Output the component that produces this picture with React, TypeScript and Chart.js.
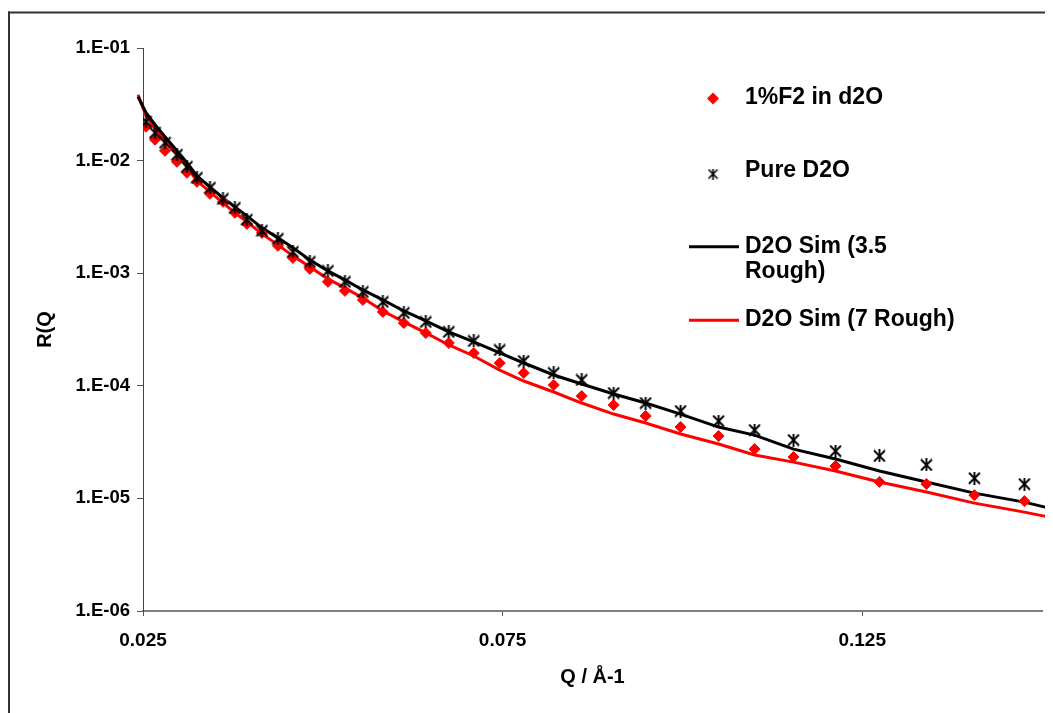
import React, { useEffect, useRef } from 'react';
import { Chart, registerables } from 'chart.js';

Chart.register(...registerables);

const FONT = '"Liberation Sans", Arial, Helvetica, sans-serif';

// Measured Q values (Å-1)
const qData = [
  0.02542, 0.02667, 0.02806, 0.02972, 0.03111, 0.0325, 0.03431, 0.03612, 0.03778, 0.03945,
  0.04154, 0.04376, 0.04584, 0.0482, 0.05071, 0.05307, 0.05557, 0.05835, 0.06127, 0.06432,
  0.06752, 0.07099, 0.0746, 0.07794, 0.08211, 0.086, 0.09044, 0.09489, 0.09975, 0.10503,
  0.11004, 0.11545, 0.12129, 0.1274, 0.13393, 0.1406, 0.14755,
];

// 1%F2 in d2O reflectivity
const f2Values = [
  0.01998, 0.01531, 0.01222, 0.00976, 0.0078, 0.00648, 0.00507, 0.00431, 0.00344, 0.00274,
  0.00228, 0.00175, 0.001368, 0.001092, 0.000838, 0.000697, 0.000579, 0.000453, 0.000361, 0.000294,
  0.00024, 0.0001954, 0.0001592, 0.00013, 0.0001016, 8.11e-5, 6.75e-5, 5.4e-5, 4.31e-5, 3.58e-5,
  2.74e-5, 2.33e-5, 1.94e-5, 1.4e-5, 1.34e-5, 1.069e-5, 9.46e-6,
];

// Pure D2O reflectivity
const pureD2OValues = [
  0.02213, 0.01766, 0.01439, 0.01127, 0.00881, 0.00703, 0.00573, 0.00457, 0.0038, 0.00298,
  0.00238, 0.00202, 0.001545, 0.001259, 0.001047, 0.000838, 0.000682, 0.000556, 0.000444, 0.000369,
  0.000301, 0.00025, 0.000208, 0.000166, 0.00013, 0.0001127, 8.63e-5, 7.03e-5, 5.97e-5, 4.86e-5,
  4.05e-5, 3.3e-5, 2.63e-5, 2.38e-5, 1.98e-5, 1.51e-5, 1.34e-5,
];

// Simulation Q values
const simQ = [
  0.02431, 0.02542, 0.02667, 0.02806, 0.02972, 0.03111, 0.0325, 0.03431, 0.03612, 0.03778,
  0.03945, 0.04154, 0.04376, 0.04584, 0.0482, 0.05071, 0.05307, 0.05557, 0.05835, 0.06127,
  0.06432, 0.06752, 0.07099, 0.0746, 0.07794, 0.08211, 0.086, 0.09044, 0.09489, 0.09975,
  0.10503, 0.11004, 0.11545, 0.12129, 0.1274, 0.13393, 0.1406, 0.14755, 0.151,
];

// D2O Sim (3.5 Rough)
const sim35Values = [
  0.03692, 0.0266, 0.02081, 0.01627, 0.01222, 0.00956, 0.007325, 0.00585, 0.00467, 0.003885,
  0.003231, 0.002528, 0.00206, 0.001679, 0.001313, 0.001048, 0.000872, 0.00071, 0.000579, 0.000462,
  0.000377, 0.000301, 0.000245, 0.0001957, 0.0001594, 0.0001247, 0.0001038, 8.46e-5, 7.03e-5, 5.61e-5,
  4.3e-5, 3.65e-5, 2.74e-5, 2.24e-5, 1.75e-5, 1.4e-5, 1.114e-5, 9.27e-6, 8.2e-6,
];

// D2O Sim (7 Rough)
const sim7Values = [
  0.03846, 0.02501, 0.01917, 0.015, 0.01126, 0.00881, 0.00661, 0.00528, 0.004215, 0.003436,
  0.002858, 0.002235, 0.001785, 0.001425, 0.001138, 0.00089, 0.00074, 0.000603, 0.000462, 0.000369,
  0.000295, 0.0002305, 0.000184, 0.000138, 0.0001103, 8.81e-5, 7.03e-5, 5.61e-5, 4.67e-5, 3.73e-5,
  3.04e-5, 2.43e-5, 2.1e-5, 1.75e-5, 1.4e-5, 1.138e-5, 9.08e-6, 7.55e-6, 6.82e-6,
];

const seriesLabels = ['1%F2 in d2O', 'Pure D2O', 'D2O Sim (3.5 Rough)', 'D2O Sim (7 Rough)'];

const xTickValues = [0.025, 0.075, 0.125];
const xTickLabels = ['0.025', '0.075', '0.125'];
const yTickValues = [1e-6, 1e-5, 1e-4, 1e-3, 1e-2, 1e-1];
const yTickLabels = ['1.E-06', '1.E-05', '1.E-04', '1.E-03', '1.E-02', '1.E-01'];

const xTitle = 'Q / Å-1';
const yTitle = 'R(Q';

function makeAsterisk(size: number, lw: number): HTMLCanvasElement {
  const c = document.createElement('canvas');
  c.width = size;
  c.height = size;
  const g = c.getContext('2d')!;
  g.strokeStyle = '#000';
  g.lineWidth = lw;
  const m = 1;
  g.beginPath();
  g.moveTo(m, m);
  g.lineTo(size - m, size - m);
  g.moveTo(size - m, m);
  g.lineTo(m, size - m);
  g.moveTo(size / 2, 0);
  g.lineTo(size / 2, size);
  g.stroke();
  return c;
}

export default function App() {
  const ref = useRef<HTMLCanvasElement | null>(null);

  useEffect(() => {
    const canvas = ref.current;
    if (!canvas) return;
    const asterisk = makeAsterisk(13, 1.9);
    const legendAsterisk = makeAsterisk(11, 1.6);

    const framePlugin = {
      id: 'frame',
      beforeDraw(chart: any) {
        const ctx = chart.ctx;
        ctx.save();
        ctx.fillStyle = '#ffffff';
        ctx.fillRect(0, 0, chart.width, chart.height);
        ctx.fillStyle = '#333333';
        ctx.fillRect(0, 3.5, 2, chart.height - 3.5);
        ctx.fillRect(0, 3.5, chart.width, 2);
        ctx.restore();
      },
    };

    const legendPlugin = {
      id: 'customLegend',
      afterDraw(chart: any) {
        const ctx = chart.ctx as CanvasRenderingContext2D;
        const ds = chart.data.datasets;
        const fontSize = 23;
        ctx.save();
        ctx.font = `bold ${fontSize}px ${FONT}`;
        ctx.textBaseline = 'middle';
        ctx.textAlign = 'left';
        const textX = 737;
        const markX = 705;
        const lineX0 = 681;
        const lineX1 = 731;
        const maxW = 218;
        const lineGap = 25.5;
        const itemsY = [90, 163, 238.5, 312];

        const wrap = (txt: string): string[] => {
          const words = txt.split(' ');
          const lines: string[] = [];
          let cur = '';
          for (const w of words) {
            const test = cur ? cur + ' ' + w : w;
            if (ctx.measureText(test).width > maxW && cur) {
              lines.push(cur);
              cur = w;
            } else cur = test;
          }
          if (cur) lines.push(cur);
          return lines;
        };

        ds.forEach((d: any, i: number) => {
          const y = itemsY[i];
          if (i === 0) {
            const r = 6;
            ctx.fillStyle = d.backgroundColor;
            ctx.beginPath();
            ctx.moveTo(markX - r, y + 0.5);
            ctx.lineTo(markX, y + 0.5 - r);
            ctx.lineTo(markX + r, y + 0.5);
            ctx.lineTo(markX, y + 0.5 + r);
            ctx.closePath();
            ctx.fill();
          } else if (i === 1) {
            ctx.drawImage(legendAsterisk, markX - 5.5, y + 3 - 5.5);
          } else {
            ctx.strokeStyle = d.borderColor;
            ctx.lineWidth = 3;
            ctx.beginPath();
            ctx.moveTo(lineX0, y + 0.2);
            ctx.lineTo(lineX1, y + 0.2);
            ctx.stroke();
          }
          ctx.fillStyle = '#000';
          const lines = wrap(d.label);
          lines.forEach((ln, k) => ctx.fillText(ln, textX, y + k * lineGap));
        });
        ctx.restore();
      },
    };

    const chart = new Chart(canvas, {
      type: 'scatter',
      data: {
        datasets: [
          {
            label: seriesLabels[0],
            data: qData.map((q, i) => ({ x: q, y: f2Values[i] })),
            pointStyle: 'rectRot',
            pointRadius: 5.5,
            borderWidth: 1,
            backgroundColor: '#ff0000',
            borderColor: '#ff0000',
            showLine: false,
            order: 1,
          },
          {
            label: seriesLabels[1],
            data: qData.map((q, i) => ({ x: q, y: pureD2OValues[i] })),
            pointStyle: asterisk as any,
            pointRadius: 6,
            backgroundColor: '#000',
            borderColor: '#000',
            showLine: false,
            order: 0,
          },
          {
            label: seriesLabels[2],
            data: simQ.map((q, i) => ({ x: q, y: sim35Values[i] })),
            showLine: true,
            borderColor: '#000000',
            backgroundColor: '#000000',
            borderWidth: 3,
            pointRadius: 0,
            tension: 0,
            clip: false as any,
            order: 2,
          },
          {
            label: seriesLabels[3],
            data: simQ.map((q, i) => ({ x: q, y: sim7Values[i] })),
            showLine: true,
            borderColor: '#ff0000',
            backgroundColor: '#ff0000',
            borderWidth: 3,
            pointRadius: 0,
            tension: 0,
            clip: false as any,
            order: 3,
          },
        ],
      },
      options: {
        animation: false,
        responsive: false,
        maintainAspectRatio: false,
        layout: { padding: { left: 0, right: 11, top: 40, bottom: 0 } },
        plugins: {
          legend: { display: false },
          tooltip: { enabled: false },
        },
        scales: {
          x: {
            type: 'linear',
            min: 0.025,
            max: 0.15,
            afterBuildTicks: (s: any) => {
              s.ticks = xTickValues.map((v) => ({ value: v }));
            },
            afterFit: (s: any) => {
              s.height = 102;
            },
            ticks: {
              autoSkip: false,
              maxRotation: 0,
              padding: 13,
              color: '#000',
              font: { family: FONT, size: 19, weight: 'bold' },
              callback: (v: any) => {
                const i = xTickValues.findIndex((t) => Math.abs(t - v) < 1e-9);
                return i >= 0 ? xTickLabels[i] : '';
              },
            },
            grid: { drawOnChartArea: false, drawTicks: true, tickLength: 5, color: '#555', lineWidth: 1 },
            border: { display: true, color: '#808080', width: 2 },
            title: {
              display: true,
              text: xTitle,
              color: '#000',
              font: { family: FONT, size: 20, weight: 'bold' },
              padding: { top: 0, bottom: 24 },
            },
          },
          y: {
            type: 'logarithmic',
            min: 1e-6,
            max: 1e-1,
            afterBuildTicks: (s: any) => {
              s.ticks = yTickValues.map((v) => ({ value: v }));
            },
            afterFit: (s: any) => {
              s.width = 135;
            },
            ticks: {
              autoSkip: false,
              padding: 7,
              color: '#000',
              font: { family: FONT, size: 18.5, weight: 'bold' },
              callback: (v: any) => {
                const i = yTickValues.findIndex((t) => Math.abs(t - v) / t < 1e-6);
                return i >= 0 ? yTickLabels[i] : '';
              },
            },
            grid: { drawOnChartArea: false, drawTicks: true, tickLength: 6, color: '#555', lineWidth: 1 },
            border: { display: true, color: '#444', width: 1 },
            title: {
              display: true,
              text: yTitle,
              color: '#000',
              font: { family: FONT, size: 20, weight: 'bold' },
              padding: { top: 25, bottom: 0 },
            },
          },
        },
      } as any,
      plugins: [framePlugin, legendPlugin],
    });

    return () => chart.destroy();
  }, []);

  return (
    <div>
      <canvas ref={ref} width={1045} height={705} style={{ display: 'block', width: 1045, height: 705 }} />
    </div>
  );
}
